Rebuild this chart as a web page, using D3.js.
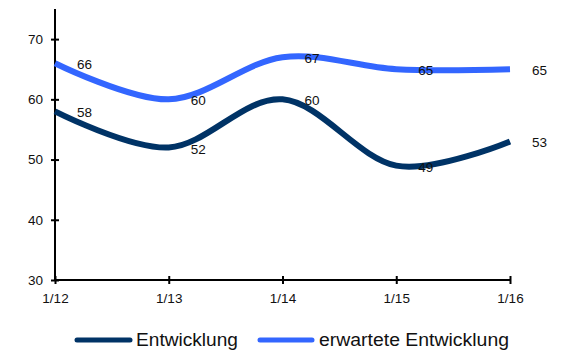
<!DOCTYPE html>
<html>
<head>
<meta charset="utf-8">
<script src="https://cdn.jsdelivr.net/npm/d3@7"></script>
<style>
  html, body { margin: 0; padding: 0; background: #fff; }
  svg { display: block; font-family: "Liberation Sans", Arial, sans-serif; }
</style>
</head>
<body>
<svg id="chart" width="564" height="352"></svg>
<script>
// Periods on the x axis
const categories = ["1/12", "1/13", "1/14", "1/15", "1/16"];
// Series values
const entwicklung = [58, 52, 60, 49, 53];
const erwartet = [66, 60, 67, 65, 65];
// Axis ticks
const yTicks = [30, 40, 50, 60, 70];

const seriesNames = ["Entwicklung", "erwartete Entwicklung"];
const seriesColors = ["#003366", "#3366ff"];

const svg = d3.select("#chart");
const plotLeft = 55, plotRight = 510, plotTop = 9, plotBottom = 280;

const x = d3.scalePoint().domain(categories).range([plotLeft, plotRight]);
const y = d3.scaleLinear().domain([30, 75]).range([plotBottom, plotTop]);

// Y axis
const yAxis = svg.append("g").attr("transform", `translate(${plotLeft},0)`)
  .call(d3.axisLeft(y).tickValues(yTicks).tickSize(0).tickPadding(12).tickFormat(d3.format("d")));
yAxis.select(".domain").remove();
yAxis.selectAll(".tick text").attr("font-size", 13.5).attr("fill", "#111")
  .attr("font-family", "Liberation Sans, Arial, sans-serif");
yAxis.selectAll(".tick").append("line").attr("x1", -4).attr("x2", 4)
  .attr("stroke", "#000").attr("stroke-width", 2);
svg.append("line").attr("x1", plotLeft).attr("x2", plotLeft).attr("y1", plotTop).attr("y2", plotBottom)
  .attr("stroke", "#000").attr("stroke-width", 2);

// X axis
const xAxis = svg.append("g").attr("transform", `translate(0,${plotBottom})`)
  .call(d3.axisBottom(x).tickSize(0).tickPadding(13));
xAxis.select(".domain").remove();
xAxis.selectAll(".tick text").attr("font-size", 13.5).attr("fill", "#111")
  .attr("font-family", "Liberation Sans, Arial, sans-serif");
xAxis.selectAll(".tick").append("line").attr("y1", -4).attr("y2", 4)
  .attr("stroke", "#000").attr("stroke-width", 2);
svg.append("line").attr("x1", plotLeft).attr("x2", plotRight).attr("y1", plotBottom).attr("y2", plotBottom)
  .attr("stroke", "#000").attr("stroke-width", 2);

// Smoothed lines
const line = d3.line()
  .x((d, i) => x(categories[i]))
  .y(d => y(d))
  .curve(d3.curveCatmullRom.alpha(0));

[entwicklung, erwartet].forEach((vals, k) => {
  svg.append("path").datum(vals)
    .attr("d", line)
    .attr("fill", "none")
    .attr("stroke", seriesColors[k])
    .attr("stroke-width", 6);
});

// Value labels, placed to the right of each point
[entwicklung, erwartet].forEach(vals => {
  svg.append("g").selectAll("text").data(vals).join("text")
    .attr("x", (d, i) => x(categories[i]) + 22)
    .attr("y", d => y(d) + 6)
    .attr("font-size", 13.5)
    .attr("fill", "#111")
    .text(d => d);
});

// Legend
const legendItems = [
  { name: seriesNames[0], color: seriesColors[0], x1: 77, x2: 130, tx: 136, w: 102 },
  { name: seriesNames[1], color: seriesColors[1], x1: 260, x2: 312, tx: 319, w: 190 }
];
const lg = svg.append("g");
legendItems.forEach(it => {
  lg.append("line").attr("x1", it.x1).attr("x2", it.x2).attr("y1", 340).attr("y2", 340)
    .attr("stroke", it.color).attr("stroke-width", 5).attr("stroke-linecap", "round");
  lg.append("text").attr("x", it.tx).attr("y", 345.5).attr("font-size", 17.5)
    .attr("textLength", it.w).attr("lengthAdjust", "spacingAndGlyphs")
    .attr("fill", "#111").text(it.name);
});
</script>
</body>
</html>
